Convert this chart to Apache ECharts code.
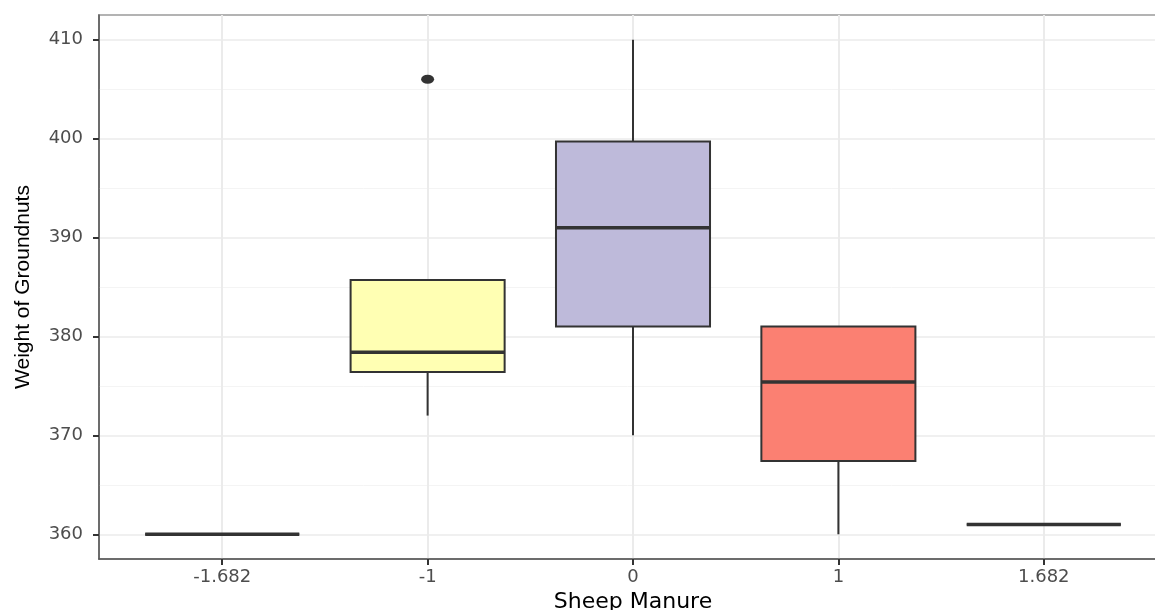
<!DOCTYPE html>
<html>
<head>
<meta charset="utf-8">
<script src="https://cdn.jsdelivr.net/npm/echarts@6/dist/echarts.min.js"></script>
<style>
html,body{margin:0;padding:0;background:#fff;}
#chart{width:1155px;height:610px;}
</style>
</head>
<body>
<div id="chart"></div>
<script>
// ---- data ----
const categories = ['-1.682', '-1', '0', '1', '1.682'];
const lowWhisker  = [360, 372.0, 370.0, 360.0, 361];
const q1          = [360, 376.4, 381.0, 367.4, 361];
const median      = [360, 378.4, 391.0, 375.4, 361];
const q3          = [360, 385.7, 399.7, 381.0, 361];
const highWhisker = [360, 385.7, 410.0, 381.0, 361];
const boxColors   = ['#8DD3C7', '#FFFFB3', '#BEBADA', '#FB8072', '#80B1D3'];
const outlierCategory = ['-1'];
const outlierValue    = [406];
const yTicks      = [360, 370, 380, 390, 400, 410];
const yMinorTicks = [365, 375, 385, 395, 405];
const xTicks      = [1, 2, 3, 4, 5];

const boxData = categories.map((c, i) => [i + 1, lowWhisker[i], q1[i], median[i], q3[i], highWhisker[i]]);
const outlierData = outlierCategory.map((c, i) => [categories.indexOf(c) + 1, outlierValue[i]]);

const chart = echarts.init(document.getElementById('chart'), null, {renderer: 'canvas'});

function renderBox(params, api) {
  const x = api.value(0);
  const low = api.coord([x, api.value(1)]);
  const pq1 = api.coord([x, api.value(2)]);
  const pmed = api.coord([x, api.value(3)]);
  const pq3 = api.coord([x, api.value(4)]);
  const high = api.coord([x, api.value(5)]);
  const halfW = api.size([0.75, 0])[0] / 2;
  const cx = low[0];
  const stroke = '#333333';
  return {
    type: 'group',
    children: [
      {type: 'line', shape: {x1: cx, y1: pq3[1], x2: cx, y2: high[1]}, style: {stroke: stroke, lineWidth: 2}},
      {type: 'line', shape: {x1: cx, y1: pq1[1], x2: cx, y2: low[1]}, style: {stroke: stroke, lineWidth: 2}},
      {type: 'rect', shape: {x: cx - halfW, y: pq3[1], width: halfW * 2, height: pq1[1] - pq3[1]},
        style: {fill: boxColors[params.dataIndex], stroke: stroke, lineWidth: 2}},
      {type: 'line', shape: {x1: cx - halfW, y1: pmed[1], x2: cx + halfW, y2: pmed[1]}, style: {stroke: stroke, lineWidth: 3.5}}
    ]
  };
}

const option = {
  backgroundColor: '#ffffff',
  animation: false,
  grid: {
    left: 99, top: 15, width: 1068, height: 544,
    containLabel: false, outerBoundsMode: 'none',
    show: true, borderColor: '#B3B3B3', borderWidth: 2, backgroundColor: 'transparent'
  },
  xAxis: {
    type: 'value', min: 0.4, max: 5.6,
    name: 'Sheep Manure', nameLocation: 'middle', nameGap: 25,
    nameTextStyle: {fontFamily: 'DejaVu Sans', fontSize: 22, color: '#000000'},
    axisLine: {show: true, onZero: false, lineStyle: {color: '#555555', width: 1.5}},
    axisTick: {show: true, length: 6, customValues: xTicks, lineStyle: {color: '#333333', width: 2}},
    axisLabel: {customValues: xTicks, margin: 9, fontFamily: 'DejaVu Sans', fontSize: 18, color: '#4D4D4D',
      formatter: v => categories[Math.round(v) - 1]},
    splitLine: {show: true, lineStyle: {color: '#EBEBEB', width: 2}}
  },
  yAxis: [{
    type: 'value', min: 357.5, max: 412.5,
    name: 'Weight of Groundnuts', nameLocation: 'middle', nameGap: 65,
    nameTextStyle: {fontFamily: 'Liberation Sans', fontSize: 21, color: '#000000'},
    axisLine: {show: true, onZero: false, lineStyle: {color: '#555555', width: 1.5}},
    axisTick: {show: true, length: 6, customValues: yTicks, lineStyle: {color: '#333333', width: 2}},
    axisLabel: {customValues: yTicks, margin: 16, fontFamily: 'DejaVu Sans', fontSize: 18, color: '#4D4D4D'},
    splitLine: {show: true, lineStyle: {color: '#EBEBEB', width: 1.5}}
  }, {
    type: 'value', min: 357.5, max: 412.5, position: 'left',
    axisLine: {show: false}, axisLabel: {show: false},
    axisTick: {show: false, customValues: yMinorTicks},
    splitLine: {show: true, lineStyle: {color: '#F4F4F4', width: 1}}
  }],
  series: [{
    type: 'custom',
    renderItem: renderBox,
    encode: {x: 0, y: [1, 2, 3, 4, 5]},
    data: boxData,
    z: 3
  }, {
    type: 'scatter',
    symbol: 'circle',
    symbolSize: [13, 9],
    itemStyle: {color: '#333333', opacity: 1},
    data: outlierData,
    z: 4
  }]
};
chart.setOption(option);
</script>
</body>
</html>
